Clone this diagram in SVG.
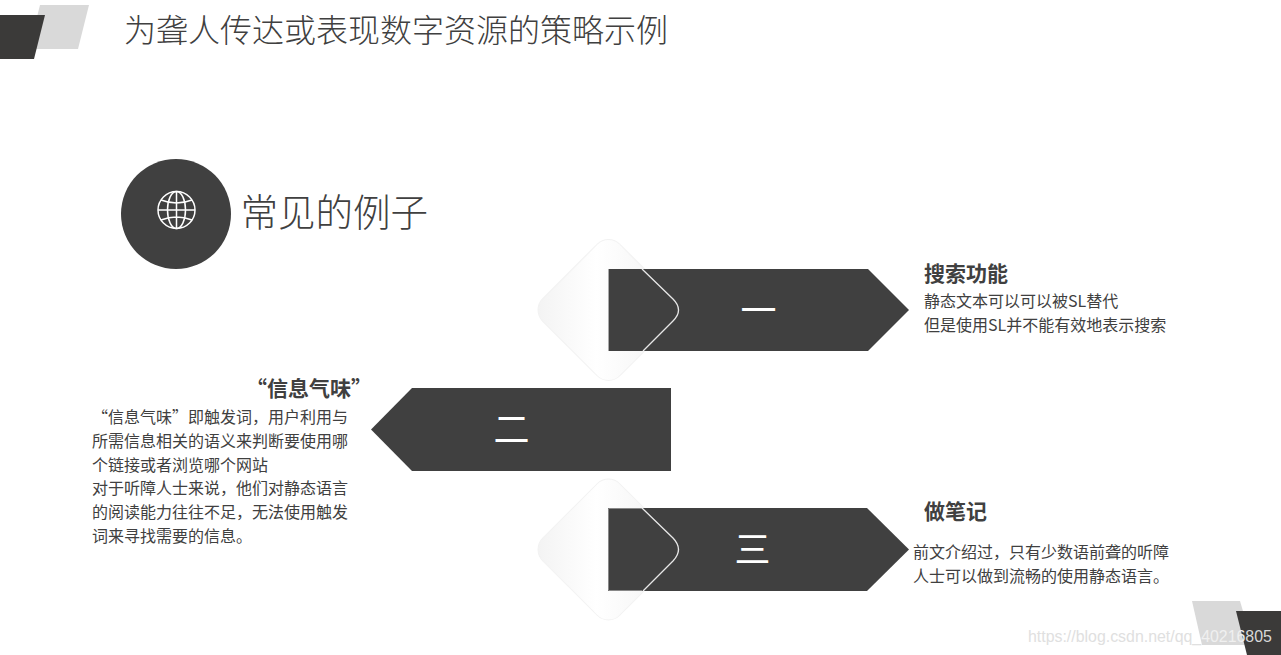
<svg xmlns="http://www.w3.org/2000/svg" width="1281" height="655" viewBox="0 0 1281 655">
<style>
text{font-family:"Noto Sans CJK SC","Noto Sans",sans-serif;fill:#404040}
.body{font-size:16px}
.head{font-size:21px;font-weight:700}
.num{font-size:36px;fill:#fff;text-anchor:middle;font-weight:400}
.arrow{fill:#404040}
.dia{fill:url(#dg);stroke:#f2f2f2;stroke-width:1}
.rim{fill:none;stroke:#e8e8e8;stroke-width:1.3}
.globe{fill:none;stroke:#fff;stroke-width:1.5}
</style>
<defs>
<linearGradient id="dg" gradientUnits="objectBoundingBox" x1="0" y1="1" x2="1" y2="0">
<stop offset="0" stop-color="#f2f2f2"/><stop offset=".42" stop-color="#fff"/><stop offset="1" stop-color="#f0f0f0"/>
</linearGradient>
</defs>
<g id="corner-top"><path d="M40 5H89L78 49H29Z" fill="#d9d9d9"/><path d="M0 15H45L34 59H0Z" fill="#3b3a39"/></g>
<g id="corner-bottom"><path d="M1192 601H1240L1253 645H1202Z" fill="#d9d9d9"/><path d="M1236 611H1281V655H1247Z" fill="#3b3a39"/></g>
<text id="title" x="124" y="42" style="font-size:32px;font-weight:300">为聋人传达或表现数字资源的策略示例</text>
<g id="heading">
<circle cx="176" cy="214" r="55" fill="#404040"/>
<g class="globe"><circle cx="176.500" cy="210" r="18.500"/><ellipse cx="176.500" cy="210" rx="9" ry="18.500"/><path d="M176.500 191.500V228.500M158 210H195M161 200Q176.500 206 192 200M161 220Q176.500 214 192 220"/></g>
<text x="240.500" y="226" style="font-size:37.500px;font-weight:300">常见的例子</text>
</g>
<g id="item-1">
<rect class="dia" x="554" y="255.500" width="109" height="109" rx="16" transform="rotate(45 608.500 310)"/>
<path class="arrow" d="M608 269H868L909 310L868 351H608Z"/>
<path d="M608.500 269V351" stroke="#aaa" stroke-width="1"/>
<path class="rim" d="M642 269L673 299Q684 310 673 321L643 351"/>
<text class="num" x="758.500" y="324">一</text>
<text class="head" x="924" y="281">搜索功能</text>
<text class="body" x="924" y="307">静态文本可以可以被SL替代</text>
<text class="body" x="924" y="331">但是使用SL并不能有效地表示搜索</text>
</g>
<g id="item-2">
<path class="arrow" d="M671 388H412L371 429.500L412 471H671Z"/>
<text class="num" x="511.500" y="443">二</text>
<text class="head" x="372" y="396" text-anchor="end">“信息气味”</text>
<text class="body" x="92" y="423">“信息气味”即触发词&#65292;用户利用与</text>
<text class="body" x="92" y="447">所需信息相关的语义来判断要使用哪</text>
<text class="body" x="92" y="471">个链接或者浏览哪个网站</text>
<text class="body" x="92" y="494">对于听障人士来说&#65292;他们对静态语言</text>
<text class="body" x="92" y="518">的阅读能力往往不足&#65292;无法使用触发</text>
<text class="body" x="92" y="542">词来寻找需要的信息。</text>
</g>
<g id="item-3">
<rect class="dia" x="554" y="495" width="109" height="109" rx="16" transform="rotate(45 608.500 549.500)"/>
<path class="arrow" d="M608 508H867L909 549.500L867 591H608Z"/>
<path d="M642 508.500H608.500V590.500H642" fill="none" stroke="#888" stroke-width="1"/>
<path class="rim" d="M642 508L673 538Q684 549.500 673 561L643 591"/>
<text class="num" x="752.500" y="563">三</text>
<text class="head" x="924" y="519">做笔记</text>
<text class="body" x="913" y="558">前文介绍过&#65292;只有少数语前聋的听障</text>
<text class="body" x="913" y="582">人士可以做到流畅的使用静态语言。</text>
</g>
<text id="watermark" x="1028" y="642" style="font-family:'Liberation Sans',sans-serif;font-size:15.900px"><tspan style="fill:#e0e0e0">https://blog.csdn.net/qq_</tspan><tspan style="fill:#f0f0f0">40216</tspan><tspan style="fill:#d8d8d8">805</tspan></text>
</svg>
